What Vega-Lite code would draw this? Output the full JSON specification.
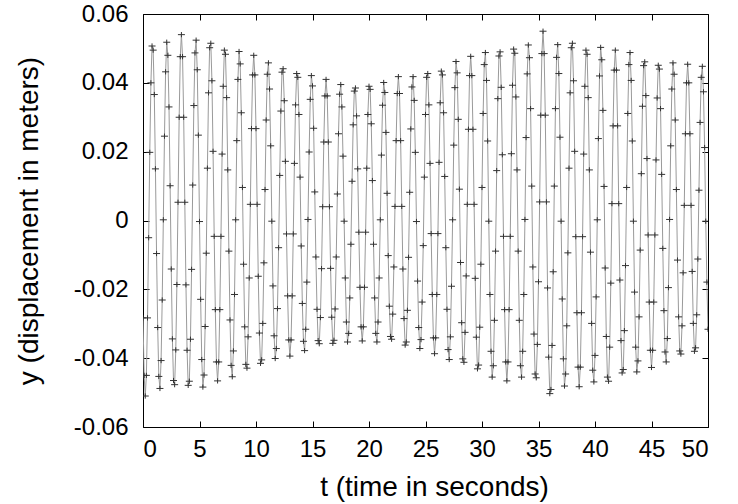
{
  "$schema": "https://vega.github.io/schema/vega-lite/v6.json",
  "width": 565,
  "height": 413,
  "autosize": "none",
  "padding": {"left": 143, "top": 14, "right": 30, "bottom": 77},
  "background": "white",
  "config": {
    "view": {"stroke": "#000", "strokeWidth": 1},
    "font": "Liberation Sans",
    "axis": {"grid": false, "domain": false, "tickColor": "#000", "tickWidth": 1, "labelColor": "#000", "titleColor": "#000", "labelFont": "Liberation Sans", "titleFont": "Liberation Sans", "labelFontSize": 24, "titleFontSize": 28, "titleFontWeight": "normal"}
  },
  "data": {"values": [
{"t":0,"y":-0.0283},{"t":0.1,"y":-0.045},{"t":0.2,"y":-0.051},{"t":0.3,"y":-0.045},{"t":0.4,"y":-0.0283},{"t":0.5,"y":-0.005},{"t":0.6,"y":0.0198},{"t":0.7,"y":0.04},{"t":0.8,"y":0.0507},{"t":0.9,"y":0.0495},
{"t":1.0,"y":0.0366},{"t":1.1,"y":0.015},{"t":1.2,"y":-0.0096},{"t":1.3,"y":-0.0311},{"t":1.4,"y":-0.0453},{"t":1.5,"y":-0.0488},{"t":1.6,"y":-0.0407},{"t":1.7,"y":-0.0231},{"t":1.8,"y":0.0002},{"t":1.9,"y":0.0245},
{"t":2.0,"y":0.0432},{"t":2.1,"y":0.0518},{"t":2.2,"y":0.048},{"t":2.3,"y":0.033},{"t":2.4,"y":0.0101},{"t":2.5,"y":-0.0141},{"t":2.6,"y":-0.0344},{"t":2.7,"y":-0.0465},{"t":2.8,"y":-0.0477},{"t":2.9,"y":-0.0376},
{"t":3.0,"y":-0.0186},{"t":3.1,"y":0.0053},{"t":3.2,"y":0.03},{"t":3.3,"y":0.0476},{"t":3.4,"y":0.054},{"t":3.5,"y":0.0476},{"t":3.6,"y":0.03},{"t":3.7,"y":0.0053},{"t":3.8,"y":-0.0187},{"t":3.9,"y":-0.0377},
{"t":4.0,"y":-0.0479},{"t":4.1,"y":-0.0467},{"t":4.2,"y":-0.0345},{"t":4.3,"y":-0.0142},{"t":4.4,"y":0.0103},{"t":4.5,"y":0.0334},{"t":4.6,"y":0.0487},{"t":4.7,"y":0.0524},{"t":4.8,"y":0.0438},{"t":4.9,"y":0.0248},
{"t":5.0,"y":-0.0003},{"t":5.1,"y":-0.0229},{"t":5.2,"y":-0.0404},{"t":5.3,"y":-0.0484},{"t":5.4,"y":-0.0449},{"t":5.5,"y":-0.0308},{"t":5.6,"y":-0.0095},{"t":5.7,"y":0.0152},{"t":5.8,"y":0.0371},{"t":5.9,"y":0.0502},
{"t":6.0,"y":0.0515},{"t":6.1,"y":0.0406},{"t":6.2,"y":0.0201},{"t":6.3,"y":-0.0046},{"t":6.4,"y":-0.0259},{"t":6.5,"y":-0.0411},{"t":6.6,"y":-0.0466},{"t":6.7,"y":-0.0411},{"t":6.8,"y":-0.0259},{"t":6.9,"y":-0.0046},
{"t":7.0,"y":0.0193},{"t":7.1,"y":0.039},{"t":7.2,"y":0.0495},{"t":7.3,"y":0.0483},{"t":7.4,"y":0.0357},{"t":7.5,"y":0.0147},{"t":7.6,"y":-0.0089},{"t":7.7,"y":-0.0289},{"t":7.8,"y":-0.0421},{"t":7.9,"y":-0.0454},
{"t":8.0,"y":-0.0379},{"t":8.1,"y":-0.0215},{"t":8.2,"y":0.0002},{"t":8.3,"y":0.0232},{"t":8.4,"y":0.041},{"t":8.5,"y":0.0491},{"t":8.6,"y":0.0455},{"t":8.7,"y":0.0313},{"t":8.8,"y":0.0096},{"t":8.9,"y":-0.0127},
{"t":9.0,"y":-0.0309},{"t":9.1,"y":-0.0418},{"t":9.2,"y":-0.0429},{"t":9.3,"y":-0.0338},{"t":9.4,"y":-0.0167},{"t":9.5,"y":0.0047},{"t":9.6,"y":0.0267},{"t":9.7,"y":0.0423},{"t":9.8,"y":0.048},{"t":9.9,"y":0.0423},
{"t":10.0,"y":0.0267},{"t":10.1,"y":0.0047},{"t":10.2,"y":-0.0162},{"t":10.3,"y":-0.0327},{"t":10.4,"y":-0.0415},{"t":10.5,"y":-0.0405},{"t":10.6,"y":-0.0299},{"t":10.7,"y":-0.0123},{"t":10.8,"y":0.009},{"t":10.9,"y":0.0292},
{"t":11.0,"y":0.0425},{"t":11.1,"y":0.0458},{"t":11.2,"y":0.0382},{"t":11.3,"y":0.0217},{"t":11.4,"y":-0.0002},{"t":11.5,"y":-0.019},{"t":11.6,"y":-0.0335},{"t":11.7,"y":-0.0401},{"t":11.8,"y":-0.0372},{"t":11.9,"y":-0.0256},
{"t":12.0,"y":-0.0079},{"t":12.1,"y":0.0131},{"t":12.2,"y":0.0318},{"t":12.3,"y":0.0431},{"t":12.4,"y":0.0441},{"t":12.5,"y":0.0348},{"t":12.6,"y":0.0172},{"t":12.7,"y":-0.0039},{"t":12.8,"y":-0.0219},{"t":12.9,"y":-0.0347},
{"t":13.0,"y":-0.0394},{"t":13.1,"y":-0.0347},{"t":13.2,"y":-0.0219},{"t":13.3,"y":-0.0039},{"t":13.4,"y":0.0166},{"t":13.5,"y":0.0336},{"t":13.6,"y":0.0427},{"t":13.7,"y":0.0416},{"t":13.8,"y":0.0308},{"t":13.9,"y":0.0126},
{"t":14.0,"y":-0.0074},{"t":14.1,"y":-0.0241},{"t":14.2,"y":-0.0351},{"t":14.3,"y":-0.0378},{"t":14.4,"y":-0.0316},{"t":14.5,"y":-0.0179},{"t":14.6,"y":0.0003},{"t":14.7,"y":0.0199},{"t":14.8,"y":0.0352},{"t":14.9,"y":0.0421},
{"t":15.0,"y":0.0391},{"t":15.1,"y":0.0268},{"t":15.2,"y":0.0083},{"t":15.3,"y":-0.0106},{"t":15.4,"y":-0.0258},{"t":15.5,"y":-0.0349},{"t":15.6,"y":-0.0358},{"t":15.7,"y":-0.0282},{"t":15.8,"y":-0.014},{"t":15.9,"y":0.004},
{"t":16.0,"y":0.0228},{"t":16.1,"y":0.0362},{"t":16.2,"y":0.041},{"t":16.3,"y":0.0362},{"t":16.4,"y":0.0228},{"t":16.5,"y":0.004},{"t":16.6,"y":-0.0139},{"t":16.7,"y":-0.0281},{"t":16.8,"y":-0.0357},{"t":16.9,"y":-0.0348},
{"t":17.0,"y":-0.0257},{"t":17.1,"y":-0.0106},{"t":17.2,"y":0.0077},{"t":17.3,"y":0.0252},{"t":17.4,"y":0.0367},{"t":17.5,"y":0.0395},{"t":17.6,"y":0.033},{"t":17.7,"y":0.0187},{"t":17.8,"y":-0.0002},{"t":17.9,"y":-0.0167},
{"t":18.0,"y":-0.0295},{"t":18.1,"y":-0.0353},{"t":18.2,"y":-0.0328},{"t":18.3,"y":-0.0225},{"t":18.4,"y":-0.0069},{"t":18.5,"y":0.0114},{"t":18.6,"y":0.0278},{"t":18.7,"y":0.0376},{"t":18.8,"y":0.0385},{"t":18.9,"y":0.0304},
{"t":19.0,"y":0.015},{"t":19.1,"y":-0.0034},{"t":19.2,"y":-0.0194},{"t":19.3,"y":-0.0309},{"t":19.4,"y":-0.035},{"t":19.5,"y":-0.0309},{"t":19.6,"y":-0.0194},{"t":19.7,"y":-0.0034},{"t":19.8,"y":0.0152},{"t":19.9,"y":0.0308},
{"t":20.0,"y":0.039},{"t":20.1,"y":0.0381},{"t":20.2,"y":0.0281},{"t":20.3,"y":0.0116},{"t":20.4,"y":-0.0069},{"t":20.5,"y":-0.0225},{"t":20.6,"y":-0.0328},{"t":20.7,"y":-0.0353},{"t":20.8,"y":-0.0295},{"t":20.9,"y":-0.0167},
{"t":21.0,"y":0.0002},{"t":21.1,"y":0.019},{"t":21.2,"y":0.0335},{"t":21.3,"y":0.0401},{"t":21.4,"y":0.0372},{"t":21.5,"y":0.0256},{"t":21.6,"y":0.0079},{"t":21.7,"y":-0.0102},{"t":21.8,"y":-0.0249},{"t":21.9,"y":-0.0337},
{"t":22.0,"y":-0.0345},{"t":22.1,"y":-0.0272},{"t":22.2,"y":-0.0135},{"t":22.3,"y":0.0041},{"t":22.4,"y":0.0232},{"t":22.5,"y":0.0369},{"t":22.6,"y":0.0418},{"t":22.7,"y":0.0369},{"t":22.8,"y":0.0232},{"t":22.9,"y":0.0041},
{"t":23.0,"y":-0.0141},{"t":23.1,"y":-0.0285},{"t":23.2,"y":-0.0362},{"t":23.3,"y":-0.0353},{"t":23.4,"y":-0.0261},{"t":23.5,"y":-0.0107},{"t":23.6,"y":0.0082},{"t":23.7,"y":0.0266},{"t":23.8,"y":0.0388},{"t":23.9,"y":0.0418},
{"t":24.0,"y":0.0349},{"t":24.1,"y":0.0198},{"t":24.2,"y":-0.0003},{"t":24.3,"y":-0.0176},{"t":24.4,"y":-0.0311},{"t":24.5,"y":-0.0372},{"t":24.6,"y":-0.0346},{"t":24.7,"y":-0.0237},{"t":24.8,"y":-0.0073},{"t":24.9,"y":0.0126},
{"t":25.0,"y":0.0308},{"t":25.1,"y":0.0416},{"t":25.2,"y":0.0427},{"t":25.3,"y":0.0336},{"t":25.4,"y":0.0166},{"t":25.5,"y":-0.0038},{"t":25.6,"y":-0.0215},{"t":25.7,"y":-0.0341},{"t":25.8,"y":-0.0387},{"t":25.9,"y":-0.0341},
{"t":26.0,"y":-0.0215},{"t":26.1,"y":-0.0038},{"t":26.2,"y":0.0169},{"t":26.3,"y":0.0342},{"t":26.4,"y":0.0434},{"t":26.5,"y":0.0423},{"t":26.6,"y":0.0313},{"t":26.7,"y":0.0128},{"t":26.8,"y":-0.0079},{"t":26.9,"y":-0.0258},
{"t":27.0,"y":-0.0375},{"t":27.1,"y":-0.0404},{"t":27.2,"y":-0.0338},{"t":27.3,"y":-0.0191},{"t":27.4,"y":0.0002},{"t":27.5,"y":0.0219},{"t":27.6,"y":0.0386},{"t":27.7,"y":0.0462},{"t":27.8,"y":0.0429},{"t":27.9,"y":0.0294},
{"t":28.0,"y":0.0091},{"t":28.1,"y":-0.0122},{"t":28.2,"y":-0.0297},{"t":28.3,"y":-0.0402},{"t":28.4,"y":-0.0412},{"t":28.5,"y":-0.0325},{"t":28.6,"y":-0.0161},{"t":28.7,"y":0.0047},{"t":28.8,"y":0.0265},{"t":28.9,"y":0.0421},
{"t":29.0,"y":0.0477},{"t":29.1,"y":0.0421},{"t":29.2,"y":0.0265},{"t":29.3,"y":0.0047},{"t":29.4,"y":-0.0168},{"t":29.5,"y":-0.0339},{"t":29.6,"y":-0.0431},{"t":29.7,"y":-0.042},{"t":29.8,"y":-0.031},{"t":29.9,"y":-0.0127},
{"t":30.0,"y":0.0096},{"t":30.1,"y":0.0311},{"t":30.2,"y":0.0453},{"t":30.3,"y":0.0488},{"t":30.4,"y":0.0407},{"t":30.5,"y":0.0231},{"t":30.6,"y":-0.0002},{"t":30.7,"y":-0.0215},{"t":30.8,"y":-0.038},{"t":30.9,"y":-0.0455},
{"t":31.0,"y":-0.0422},{"t":31.1,"y":-0.029},{"t":31.2,"y":-0.0089},{"t":31.3,"y":0.0145},{"t":31.4,"y":0.0354},{"t":31.5,"y":0.0478},{"t":31.6,"y":0.049},{"t":31.7,"y":0.0387},{"t":31.8,"y":0.0191},{"t":31.9,"y":-0.0046},
{"t":32.0,"y":-0.0259},{"t":32.1,"y":-0.0411},{"t":32.2,"y":-0.0466},{"t":32.3,"y":-0.0411},{"t":32.4,"y":-0.0259},{"t":32.5,"y":-0.0046},{"t":32.6,"y":0.0194},{"t":32.7,"y":0.0393},{"t":32.8,"y":0.0498},{"t":32.9,"y":0.0486},
{"t":33.0,"y":0.0359},{"t":33.1,"y":0.0147},{"t":33.2,"y":-0.0089},{"t":33.3,"y":-0.029},{"t":33.4,"y":-0.0422},{"t":33.5,"y":-0.0455},{"t":33.6,"y":-0.038},{"t":33.7,"y":-0.0215},{"t":33.8,"y":0.0003},{"t":33.9,"y":0.0241},
{"t":34.0,"y":0.0426},{"t":34.1,"y":0.051},{"t":34.2,"y":0.0473},{"t":34.3,"y":0.0325},{"t":34.4,"y":0.01},{"t":34.5,"y":-0.0135},{"t":34.6,"y":-0.033},{"t":34.7,"y":-0.0446},{"t":34.8,"y":-0.0457},{"t":34.9,"y":-0.036},
{"t":35.0,"y":-0.0178},{"t":35.1,"y":0.0054},{"t":35.2,"y":0.0306},{"t":35.3,"y":0.0485},{"t":35.4,"y":0.055},{"t":35.5,"y":0.0485},{"t":35.6,"y":0.0306},{"t":35.7,"y":0.0054},{"t":35.8,"y":-0.0196},{"t":35.9,"y":-0.0397},
{"t":36.0,"y":-0.0503},{"t":36.1,"y":-0.0491},{"t":36.2,"y":-0.0363},{"t":36.3,"y":-0.0149},{"t":36.4,"y":0.01},{"t":36.5,"y":0.0325},{"t":36.6,"y":0.0474},{"t":36.7,"y":0.0511},{"t":36.8,"y":0.0427},{"t":36.9,"y":0.0242},
{"t":37.0,"y":-0.0002},{"t":37.1,"y":-0.0228},{"t":37.2,"y":-0.0402},{"t":37.3,"y":-0.0481},{"t":37.4,"y":-0.0446},{"t":37.5,"y":-0.0306},{"t":37.6,"y":-0.0094},{"t":37.7,"y":0.0152},{"t":37.8,"y":0.0371},{"t":37.9,"y":0.0502},
{"t":38.0,"y":0.0515},{"t":38.1,"y":0.0406},{"t":38.2,"y":0.0201},{"t":38.3,"y":-0.0047},{"t":38.4,"y":-0.0268},{"t":38.5,"y":-0.0426},{"t":38.6,"y":-0.0483},{"t":38.7,"y":-0.0426},{"t":38.8,"y":-0.0268},{"t":38.9,"y":-0.0047},
{"t":39.0,"y":0.0193},{"t":39.1,"y":0.039},{"t":39.2,"y":0.0495},{"t":39.3,"y":0.0483},{"t":39.4,"y":0.0357},{"t":39.5,"y":0.0147},{"t":39.6,"y":-0.0092},{"t":39.7,"y":-0.0299},{"t":39.8,"y":-0.0435},{"t":39.9,"y":-0.0469},
{"t":40.0,"y":-0.0392},{"t":40.1,"y":-0.0222},{"t":40.2,"y":0.0002},{"t":40.3,"y":0.0238},{"t":40.4,"y":0.042},{"t":40.5,"y":0.0503},{"t":40.6,"y":0.0467},{"t":40.7,"y":0.032},{"t":40.8,"y":0.0099},{"t":40.9,"y":-0.0138},
{"t":41.0,"y":-0.0337},{"t":41.1,"y":-0.0455},{"t":41.2,"y":-0.0467},{"t":41.3,"y":-0.0368},{"t":41.4,"y":-0.0182},{"t":41.5,"y":0.0049},{"t":41.6,"y":0.0275},{"t":41.7,"y":0.0437},{"t":41.8,"y":0.0495},{"t":41.9,"y":0.0437},
{"t":42.0,"y":0.0275},{"t":42.1,"y":0.0049},{"t":42.2,"y":-0.0173},{"t":42.3,"y":-0.0349},{"t":42.4,"y":-0.0443},{"t":42.5,"y":-0.0433},{"t":42.6,"y":-0.032},{"t":42.7,"y":-0.0131},{"t":42.8,"y":0.0096},{"t":42.9,"y":0.0311},
{"t":43.0,"y":0.0453},{"t":43.1,"y":0.0488},{"t":43.2,"y":0.0407},{"t":43.3,"y":0.0231},{"t":43.4,"y":-0.0002},{"t":43.5,"y":-0.0208},{"t":43.6,"y":-0.0368},{"t":43.7,"y":-0.044},{"t":43.8,"y":-0.0408},{"t":43.9,"y":-0.028},
{"t":44.0,"y":-0.0086},{"t":44.1,"y":0.0136},{"t":44.2,"y":0.0332},{"t":44.3,"y":0.045},{"t":44.4,"y":0.0461},{"t":44.5,"y":0.0363},{"t":44.6,"y":0.018},{"t":44.7,"y":-0.0042},{"t":44.8,"y":-0.0237},{"t":44.9,"y":-0.0377},
{"t":45.0,"y":-0.0427},{"t":45.1,"y":-0.0377},{"t":45.2,"y":-0.0237},{"t":45.3,"y":-0.0042},{"t":45.4,"y":0.0176},{"t":45.5,"y":0.0356},{"t":45.6,"y":0.0451},{"t":45.7,"y":0.044},{"t":45.8,"y":0.0325},{"t":45.9,"y":0.0134},
{"t":46.0,"y":-0.0081},{"t":46.1,"y":-0.0262},{"t":46.2,"y":-0.0382},{"t":46.3,"y":-0.0411},{"t":46.4,"y":-0.0343},{"t":46.5,"y":-0.0195},{"t":46.6,"y":0.0003},{"t":46.7,"y":0.0217},{"t":46.8,"y":0.0382},{"t":46.9,"y":0.0458},
{"t":47.0,"y":0.0425},{"t":47.1,"y":0.0292},{"t":47.2,"y":0.009},{"t":47.3,"y":-0.0115},{"t":47.4,"y":-0.028},{"t":47.5,"y":-0.0379},{"t":47.6,"y":-0.0388},{"t":47.7,"y":-0.0306},{"t":47.8,"y":-0.0152},{"t":47.9,"y":0.0044},
{"t":48.0,"y":0.0252},{"t":48.1,"y":0.04},{"t":48.2,"y":0.0454},{"t":48.3,"y":0.04},{"t":48.4,"y":0.0252},{"t":48.5,"y":0.0044},{"t":48.6,"y":-0.0148},{"t":48.7,"y":-0.0299},{"t":48.8,"y":-0.038},{"t":48.9,"y":-0.037},
{"t":49.0,"y":-0.0274},{"t":49.1,"y":-0.0112},{"t":49.2,"y":0.0088},{"t":49.3,"y":0.0285},{"t":49.4,"y":0.0416},{"t":49.5,"y":0.0448},{"t":49.6,"y":0.0374},{"t":49.7,"y":0.0212},{"t":49.8,"y":-0.0002},{"t":49.9,"y":-0.0179},
{"t":50.0,"y":-0.0316}
  ]},
  "layer": [
    {
      "mark": {"type": "line", "color": "#9a9a9a", "strokeWidth": 1, "clip": true},
      "encoding": {
        "x": {"field": "t", "type": "quantitative", "scale": {"domain": [0, 50], "nice": false},
          "axis": {"orient": "bottom", "values": [0,5,10,15,20,25,30,35,40,45,50], "tickSize": -6, "labelPadding": 16, "title": "t (time in seconds)", "titlePadding": 12, "titleX": 291}},
        "y": {"field": "y", "type": "quantitative", "scale": {"domain": [-0.06, 0.06], "nice": false, "zero": false},
          "axis": {"orient": "left", "values": [-0.06,-0.04,-0.02,0,0.02,0.04,0.06], "tickSize": -6, "labelPadding": 21, "labelExpr": "datum.value == 0 ? '0' : replace(format(datum.value, '.2f'), '\u2212', '-')", "title": "y (displacement in meters)", "titlePadding": 30}}
      }
    },
    {
      "mark": {"type": "point", "shape": "M-1,0H1M0,-0.75V0.75", "filled": false, "stroke": "#333333", "strokeWidth": 1, "size": 49, "opacity": 1, "clip": true},
      "encoding": {
        "x": {"field": "t", "type": "quantitative", "axis": {"orient": "top", "values": [0,5,10,15,20,25,30,35,40,45,50], "tickSize": -6, "labels": false, "title": null}},
        "y": {"field": "y", "type": "quantitative", "axis": {"orient": "right", "values": [-0.06,-0.04,-0.02,0,0.02,0.04,0.06], "tickSize": -6, "labels": false, "title": null}}
      }
    }
  ],
  "resolve": {"axis": {"x": "independent", "y": "independent"}}
}
